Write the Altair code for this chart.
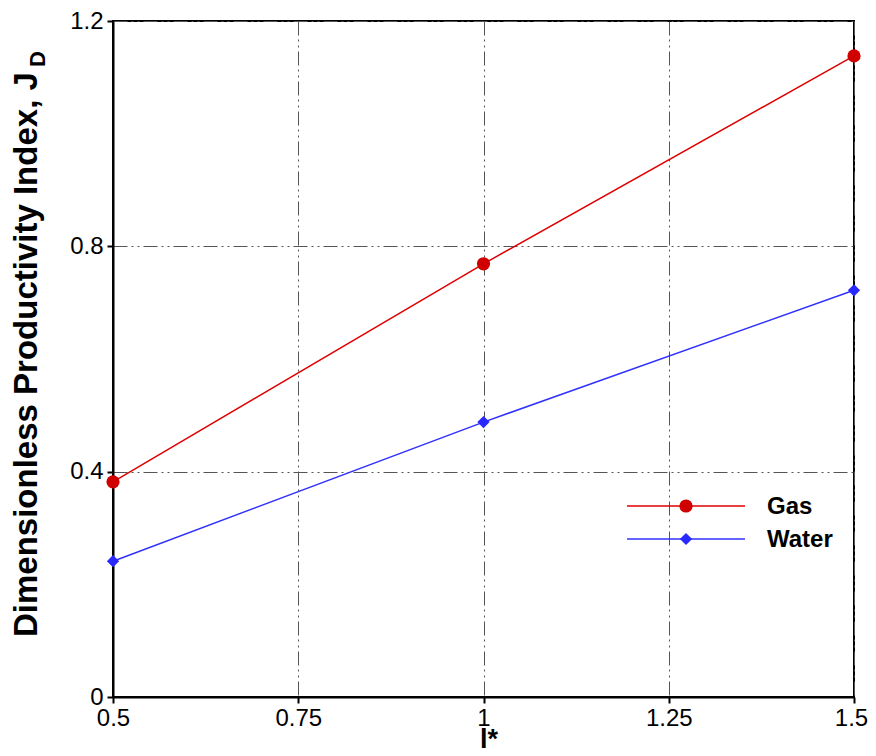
import altair as alt
import pandas as pd

# ---- data ----
l_star = [0.5, 1.0, 1.5]
gas = [0.382, 0.769, 1.138]
water = [0.241, 0.488, 0.722]
x_ticks = [0.5, 0.75, 1.0, 1.25, 1.5]
y_ticks = [0, 0.4, 0.8, 1.2]
series_names = ["Gas", "Water"]

gas_df = pd.DataFrame({"l": l_star, "jd": gas})
water_df = pd.DataFrame({"l": l_star, "jd": water})

W, H = 741, 676
FONT = "Liberation Sans"
GAS_LINE, GAS_PT = "#e00000", "#d00000"
WAT_LINE, WAT_PT = "#3030ff", "#2828ff"
DASH = [14, 4, 2, 4, 2, 4]

xs = alt.Scale(domain=[0.5, 1.5], nice=False, zero=False)
ys = alt.Scale(domain=[0, 1.2], nice=False)

common_axis = dict(
    grid=True, gridDash=DASH, gridColor="#555555", gridWidth=1, gridOpacity=1,
    domainColor="black", domainWidth=2, tickColor="black", tickWidth=2,
    tickSize=6, labelFontSize=24, labelFont=FONT, labelColor="black",
    labelExpr="format(datum.value, '.2~f')", title=None,
)
xaxis = alt.Axis(values=x_ticks, labelPadding=3, labelFlush=False,
                 labelOffset={"condition": {"test": "datum.value == 1.5", "value": -3},
                              "value": 0},
                 **common_axis)
yaxis = alt.Axis(values=y_ticks, labelPadding=4, labelFlush=False, **common_axis)

X = alt.X("l:Q", scale=xs, axis=xaxis)
Y = alt.Y("jd:Q", scale=ys, axis=yaxis)

gas_line = alt.Chart(gas_df).mark_line(color=GAS_LINE, strokeWidth=1.5).encode(x=X, y=Y)
gas_pts = alt.Chart(gas_df).mark_point(shape="circle", filled=True, color=GAS_PT,
                                       size=175, opacity=1).encode(x=X, y=Y)
wat_line = alt.Chart(water_df).mark_line(color=WAT_LINE, strokeWidth=1.5).encode(x=X, y=Y)
wat_pts = alt.Chart(water_df).mark_point(shape="diamond", filled=True, color=WAT_PT,
                                         size=150, opacity=1).encode(x=X, y=Y)

# ---- legend (inside plot, lower right) ----
leg_rows = [(series_names[0], 485, GAS_LINE, GAS_PT, "circle", 175),
            (series_names[1], 518, WAT_LINE, WAT_PT, "diamond", 150)]
legend_layers = []
one = pd.DataFrame({"a": [0]})
for name, yy, lc, pc, shp, sz in leg_rows:
    legend_layers.append(alt.Chart(one).mark_rule(color=lc, strokeWidth=1.5).encode(
        x=alt.value(514), x2=alt.value(632), y=alt.value(yy)))
    legend_layers.append(alt.Chart(one).mark_point(shape=shp, filled=True, color=pc,
                                                   size=sz, opacity=1).encode(
        x=alt.value(573), y=alt.value(yy)))
    legend_layers.append(alt.Chart(one).mark_text(text=name, font=FONT, fontSize=24,
                                                  fontWeight="bold", align="left",
                                                  baseline="middle", color="black").encode(
        x=alt.value(654), y=alt.value(yy + 1)))

# ---- axis titles as text (subscript / superscript) ----
ytitle = alt.Chart(one).mark_text(text="Dimensionless Productivity Index, J", font=FONT,
                                  fontSize=33, fontWeight="bold", angle=270,
                                  align="left", baseline="alphabetic",
                                  color="black").encode(
    x=alt.value(-76), y=alt.value(616))
ysub = alt.Chart(one).mark_text(text="D", font=FONT, fontSize=22, fontWeight="bold",
                                angle=270, align="left", baseline="alphabetic",
                                color="black").encode(
    x=alt.value(-68), y=alt.value(46))
xtitle = alt.Chart(one).mark_text(text="l*", font=FONT, fontSize=27, fontWeight="bold",
                                  align="center", baseline="alphabetic",
                                  color="black").encode(
    x=alt.value(376), y=alt.value(727))

chart = alt.layer(gas_line, wat_line, gas_pts, wat_pts, *legend_layers,
                  ytitle, ysub, xtitle).properties(
    width=W, height=H,
    autosize=alt.AutoSizeParams(type="none"),
    padding={"left": 105, "top": 13, "right": 14, "bottom": 51},
).configure_view(stroke="black", strokeWidth=2)

chart.save("out.html", embed_options={"renderer": "svg", "actions": False})
